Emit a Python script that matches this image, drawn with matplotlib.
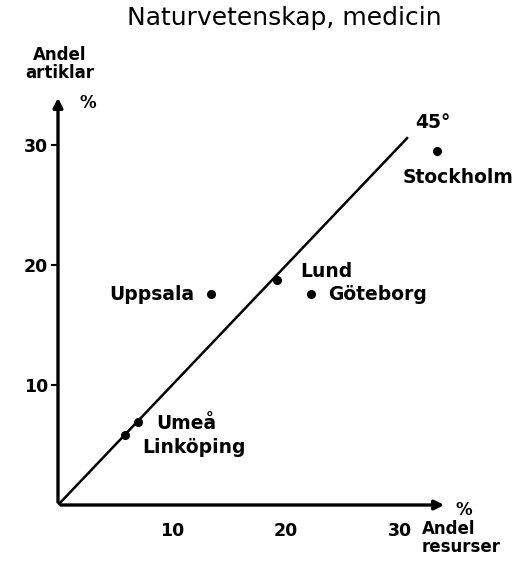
import matplotlib.pyplot as plt

# Andel resurser (x) och andel artiklar (y), procent
cities = ['Stockholm', 'Uppsala', 'Lund', 'Göteborg', 'Umeå', 'Linköping']
resurser = [33.2, 13.4, 19.2, 22.2, 7.0, 5.9]
artiklar = [29.5, 17.6, 18.8, 17.6, 6.9, 5.8]
yticks = [10, 20, 30]
xticks = [10, 20, 30]
line_end = 30.6

# label offsets in pixels from the point
offsets = {'Stockholm': (-34, -26, 'left'), 'Uppsala': (-16, 0, 'right'),
           'Lund': (23, 8, 'left'), 'Göteborg': (17, 0, 'left'),
           'Umeå': (18, -1, 'left'), 'Linköping': (17, -12, 'left')}

W, H = 521, 564
fig = plt.figure(figsize=(W / 100, H / 100), dpi=100)
x0, y0, x1, y1 = 58, 505, 447, 95
ax = fig.add_axes([x0 / W, 1 - y0 / H, (x1 - x0) / W, (y0 - y1) / H])
ax.set_xlim(0, 34.1)
ax.set_ylim(0, 34.2)
for s in ax.spines.values():
    s.set_visible(False)

# axes with arrows
ax.annotate('', xy=(34.1, 0), xytext=(0, 0),
            arrowprops=dict(arrowstyle='-|>', lw=2.4, color='black', mutation_scale=14))
ax.annotate('', xy=(0, 34.2), xytext=(0, 0),
            arrowprops=dict(arrowstyle='-|>', lw=2.4, color='black', mutation_scale=14))

fs = 13.5
ax.set_yticks(yticks)
ax.set_yticklabels([str(t) for t in yticks], fontsize=12.5, fontweight='bold')
ax.tick_params(axis='y', length=5, width=1.5, pad=2)
ax.set_xticks(xticks)
ax.set_xticklabels([str(t) for t in xticks], fontsize=12.5, fontweight='bold')
ax.tick_params(axis='x', length=0, pad=12)

# 45 degree line
ax.plot([0, line_end], [0, line_end], color='black', lw=1.8)
ax.annotate('45°', (line_end, line_end), xytext=(8, 16), textcoords='offset pixels',
            fontsize=fs, fontweight='bold', ha='left', va='center')

ax.plot(resurser, artiklar, 'o', color='black', ms=5.5)
for c, xv, yv in zip(cities, resurser, artiklar):
    dx, dy, ha = offsets[c]
    ax.annotate(c, (xv, yv), xytext=(dx, dy), textcoords='offset pixels',
                fontsize=fs, fontweight='bold', ha=ha, va='center')

fig.text(284 / W, 1 - 18 / H, 'Naturvetenskap, medicin', fontsize=18, ha='center', va='center')
fig.text(60 / W, 1 - 64 / H, 'Andel\nartiklar', fontsize=12, fontweight='bold',
         ha='center', va='center', linespacing=1.0)
fig.text(80 / W, 1 - 103 / H, '%', fontsize=12, fontweight='bold', ha='left', va='center')
fig.text(456 / W, 1 - 510 / H, '%', fontsize=12, fontweight='bold', ha='left', va='center')
fig.text(422 / W, 1 - 538 / H, 'Andel\nresurser', fontsize=12, fontweight='bold',
         ha='left', va='center', linespacing=1.0)

fig.savefig('out.png', dpi=100)
